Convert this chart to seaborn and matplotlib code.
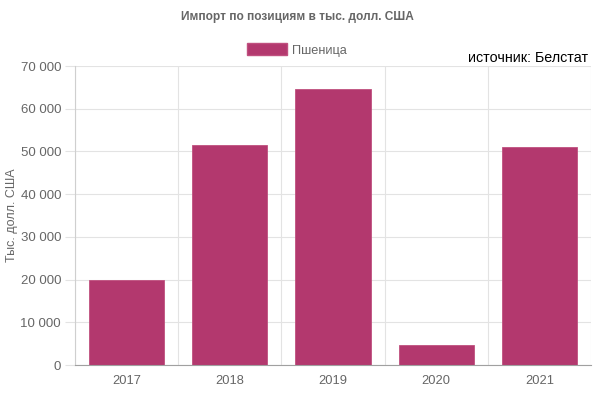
import matplotlib
matplotlib.use("Agg")
import matplotlib.pyplot as plt
import seaborn as sns
import pandas as pd
from matplotlib.ticker import FuncFormatter, MultipleLocator, FixedLocator
from matplotlib.patches import Patch

years = ["2017", "2018", "2019", "2020", "2021"]
values = [20000, 51500, 64500, 4700, 51000]
series_name = "Пшеница"
title = "Импорт по позициям в тыс. долл. США"
ylabel = "Тыс. долл. США"
source = "источник: Белстат"

sns.set_theme(style="white")
plt.rcParams["font.family"] = ["Liberation Sans", "DejaVu Sans"]

df = pd.DataFrame({"year": years, "value": values, "series": series_name})

bar_color = "#b3386e"
grey = "#666666"
grid = "#e3e3e3"

fig = plt.figure(figsize=(5.94, 3.96), dpi=100)
ax = fig.add_axes([75/594, 1 - 365/396, (591-75)/594, (365-66)/396])

sns.barplot(data=df, x="year", y="value", hue="series", palette=[bar_color],
            width=0.73, ax=ax, legend=False, saturation=1,
            edgecolor="#c0507f", linewidth=0.6)

ax.set_xlim(-0.5, len(years) - 0.5)
ax.set_ylim(0, 70000)
ax.yaxis.set_major_locator(MultipleLocator(10000))
ax.yaxis.set_major_formatter(FuncFormatter(lambda v, p: f"{int(v):,}".replace(",", " ")))

# vertical gridlines at category boundaries
ax.xaxis.set_minor_locator(FixedLocator([i - 0.5 for i in range(len(years) + 1)]))
ax.grid(True, axis="y", which="major", color=grid, linewidth=0.8)
ax.grid(True, axis="x", which="minor", color=grid, linewidth=0.8)
ax.set_axisbelow(True)

ax.tick_params(axis="x", which="major", length=0, pad=7, labelsize=9.3, labelcolor=grey)
ax.tick_params(axis="x", which="minor", length=9, width=0.8, color=grid, direction="out")
ax.tick_params(axis="y", length=7, width=0.8, color=grid, pad=3, labelsize=9.5,
               labelcolor=grey, left=True)

for s in ["top", "right"]:
    ax.spines[s].set_visible(False)
ax.spines["left"].set_color("#cfcfcf")
ax.spines["left"].set_linewidth(0.8)
ax.spines["bottom"].set_color("#a0a0a0")
ax.spines["bottom"].set_linewidth(0.8)

ax.set_xlabel("")
ax.set_ylabel(ylabel, color=grey, fontsize=9, labelpad=2)

fig.text(0.5, 1 - 17/396, title, ha="center", va="center", fontsize=8.6,
         fontweight="bold", color=grey)

handle = Patch(facecolor=bar_color, edgecolor="#c0507f", label=series_name)
fig.legend(handles=[handle], loc="center", bbox_to_anchor=(0.5, 1 - 50/396),
           frameon=False, fontsize=9.2, handlelength=3.1, handleheight=1.0,
           handletextpad=0.4, labelcolor=grey)

fig.text(588/594, 1 - 58/396, source, ha="right", va="center", fontsize=10.3,
         color="black")

fig.savefig("out.png", dpi=100)
